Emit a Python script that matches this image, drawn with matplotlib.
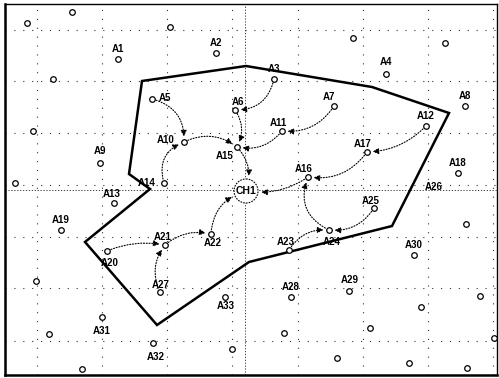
import matplotlib
matplotlib.use("Agg")
import matplotlib.pyplot as plt
from matplotlib.patches import FancyArrowPatch, Circle, Polygon

# sensor sites (map units, y grows downward)
site_names = ["A1", "A2", "A3", "A4", "A5", "A6", "A7", "A8", "A9", "A10",
              "A11", "A12", "A13", "A14", "A15", "A16", "A17", "A18", "A19",
              "A20", "A21", "A22", "A23", "A24", "A25", "A26", "A27", "A28",
              "A29", "A30", "A31", "A32", "A33"]
site_x = [118, 216, 274, 386, 152, 235, 334, 465, 100, 184,
          282, 426, 114, 164, 237, 308, 367, 458, 61,
          107, 165, 211, 289, 329, 374, 466, 160, 291,
          349, 414, 102, 153, 225]
site_y = [59, 53, 79, 74, 99, 110, 106, 106, 163, 142,
          131, 126, 203, 183, 147, 177, 152, 173, 230,
          251, 245, 234, 250, 230, 208, 224, 292, 297,
          291, 255, 317, 343, 297]

# unnamed stations outside the network
other_x = [72, 27, 170, 53, 33, 15, 353, 445, 36, 49, 232, 82,
           480, 421, 370, 284, 494, 337, 409, 467]
other_y = [12, 23, 27, 79, 131, 183, 38, 43, 281, 334, 349, 369,
           296, 307, 328, 333, 338, 358, 363, 368]

# collection hub
hub_name = "CH1"
hub_x, hub_y = 246, 191

# routing links: source -> destination
links = [("A5", "A10"), ("A10", "A15"), ("A14", "A10"), ("A6", "A15"),
         ("A3", "A6"), ("A7", "A11"), ("A11", "A15"), ("A15", "CH1"),
         ("A12", "A17"), ("A17", "A16"), ("A16", "CH1"), ("A24", "A16"),
         ("A25", "A24"), ("A23", "A24"), ("A22", "CH1"), ("A21", "A22"),
         ("A20", "A21"), ("A27", "A21")]
link_bend = [-0.4, -0.3, -0.45, -0.3, -0.4, -0.3, -0.3, -0.3,
             -0.2, -0.3, -0.2, -0.45, -0.3, -0.3, -0.35, -0.25, -0.15, -0.3]

# coverage boundary
zone_x = [142, 246, 372, 449, 392, 249, 157, 85, 150, 129]
zone_y = [81, 66, 87, 113, 226, 262, 325, 242, 189, 174]

grid_x = [37, 102, 167, 232, 298, 363, 428, 493]
grid_y = [30, 81, 133, 185, 237, 288, 341]

# label placement relative to each site (pixels)
label_off = {"A5": (13, -1), "A6": (3, -8), "A7": (-5, -9), "A10": (-18, -2),
             "A11": (-4, -8), "A13": (-2, -9), "A14": (-17, 0), "A15": (-12, 9),
             "A16": (-4, -8), "A17": (-4, -8), "A20": (3, 12), "A21": (-2, -8),
             "A22": (2, 9), "A23": (-3, -8), "A24": (3, 12), "A25": (-3, -7),
             "A26": (-32, -37), "A27": (1, -7), "A31": (0, 14), "A32": (3, 14),
             "A33": (1, 9), "A4": (0, -12), "A9": (0, -12), "A29": (1, -11)}

W, H = 499, 378
fig = plt.figure(figsize=(W / 100, H / 100), dpi=100)
ax = fig.add_axes([5 / W, 3 / H, 492 / W, 371 / H])
ax.set_xlim(5, 497)
ax.set_ylim(375, 4)
ax.set_xticks([])
ax.set_yticks([])
for side, sp in ax.spines.items():
    sp.set_color("black")
    sp.set_linewidth(1.8 if side in ("left", "bottom") else 1.0)

for gx in grid_x:
    ax.axvline(gx, color="#333333", lw=0.8, ls=(0, (1, 7)), zorder=0)
for gy in grid_y:
    ax.axhline(gy, color="#333333", lw=0.8, ls=(0, (1, 7)), zorder=0)
ax.axvline(hub_x - 1, color="#222222", lw=0.6, ls=(0, (1.5, 2)), zorder=0)
ax.axhline(hub_y - 1, color="#222222", lw=0.6, ls=(0, (1.5, 2)), zorder=0)

ax.add_patch(Polygon(list(zip(zone_x, zone_y)), closed=True, fill=False,
                     ec="black", lw=1.8, zorder=2))

pos = {n: (x, y) for n, x, y in zip(site_names, site_x, site_y)}
pos[hub_name] = (hub_x, hub_y)

for (src, dst), rad in zip(links, link_bend):
    shrink_b = 11 if dst == hub_name else 4
    ax.add_patch(FancyArrowPatch(pos[src], pos[dst],
                                 connectionstyle=f"arc3,rad={rad}",
                                 arrowstyle="-|>,head_length=3.5,head_width=1.8",
                                 lw=0.8, ls=(0, (1, 1.5)), color="black",
                                 shrinkA=3, shrinkB=shrink_b, zorder=3))

ax.scatter(other_x, other_y, s=16, facecolor="white", edgecolor="black",
           lw=0.9, zorder=4)
ax.scatter(site_x, site_y, s=16, facecolor="white", edgecolor="black",
           lw=0.9, zorder=4)

for n, x, y in zip(site_names, site_x, site_y):
    dx, dy = label_off.get(n, (0, -10))
    ax.text(x + dx, y + dy, n, ha="center", va="center", fontsize=7,
            fontweight="bold", family="Liberation Sans", zorder=5)

ax.add_patch(Circle((hub_x, hub_y), 12, fill=True, fc="white", ec="black",
                    lw=0.8, ls=(0, (1.5, 1)), zorder=4))
ax.text(hub_x, hub_y, hub_name, ha="center", va="center", fontsize=7.5,
        fontweight="bold", family="Liberation Sans", zorder=5)

fig.savefig("out.png", dpi=100)
